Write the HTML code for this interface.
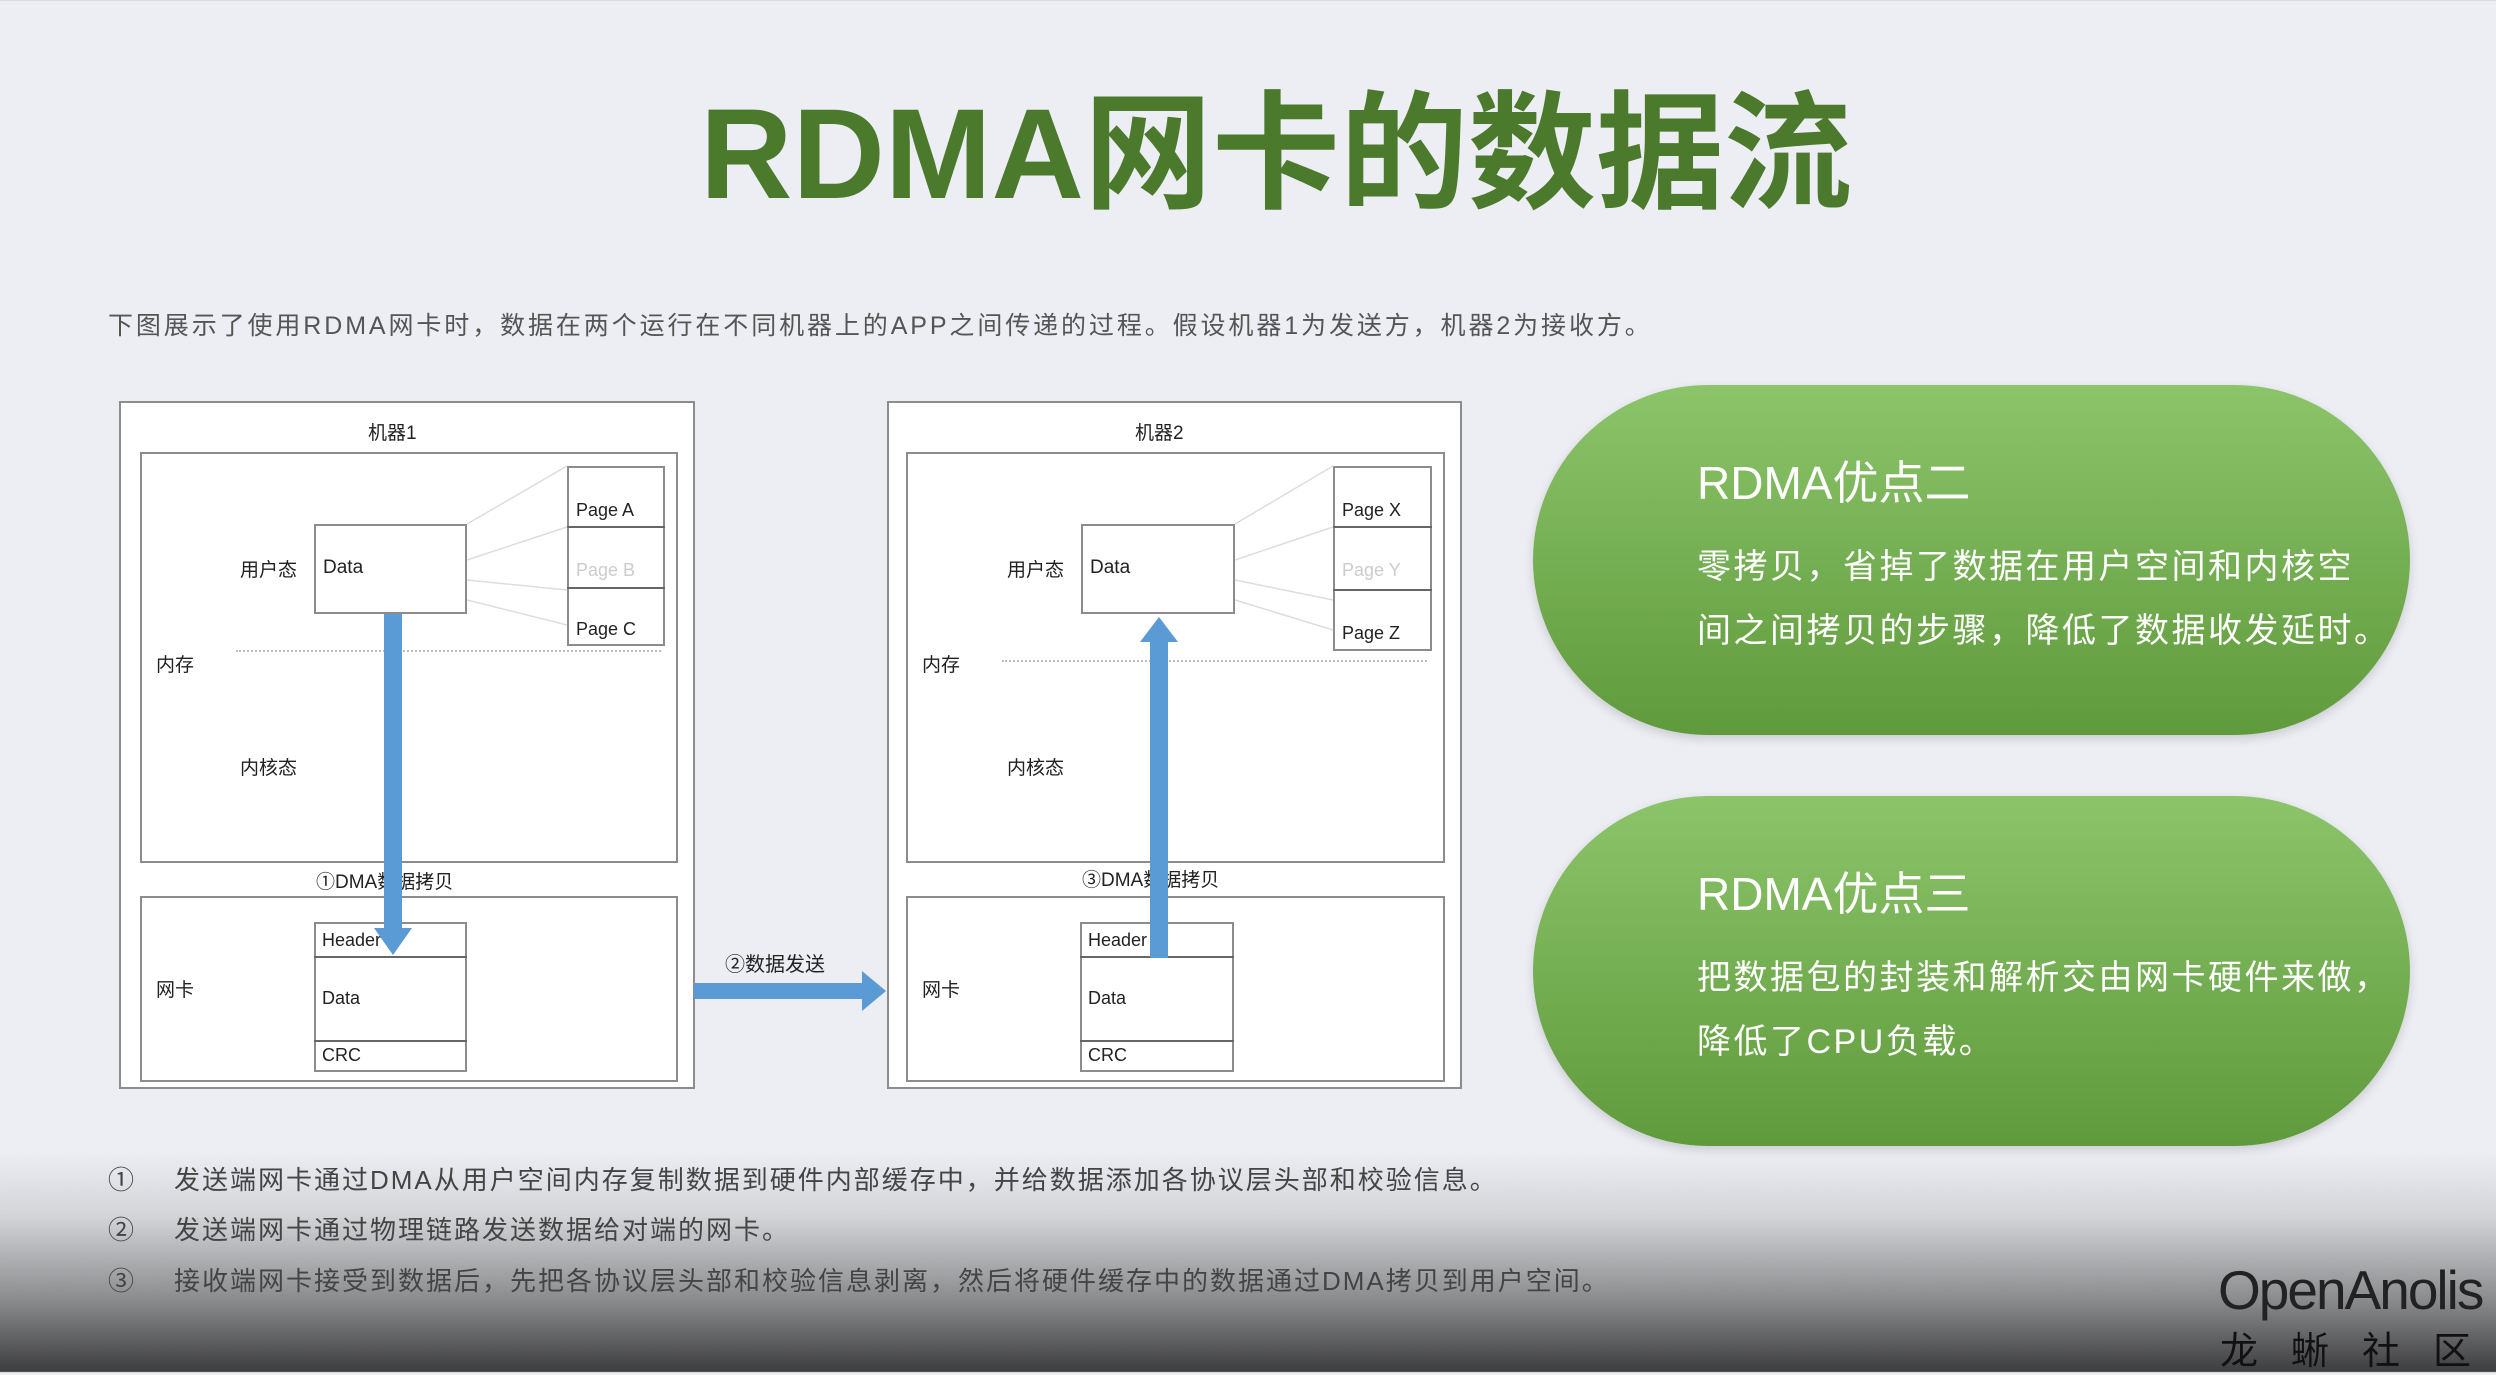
<!DOCTYPE html>
<html><head><meta charset="utf-8"><style>
*{margin:0;padding:0;box-sizing:border-box}
body{width:2496px;height:1372px;overflow:hidden;position:relative;font-family:"Liberation Sans","Noto Sans CJK SC",sans-serif;background:linear-gradient(#eceef4 0,#eceef4 1150px,#d4d5d8 1215px,#8a8b8d 1300px,#3d3d3f 1372px)}
.a{position:absolute;white-space:nowrap}
.box{position:absolute;border:2px solid #8c8c8c;background:#fff}
.t{position:absolute;font-size:19px;color:#222;white-space:nowrap}
.pill{position:absolute;left:1533px;width:877px;height:350px;border-radius:175px;background:linear-gradient(#8cc46a,#5f9a3c);box-shadow:0 4px 10px rgba(0,0,0,.15)}
.pill .h{position:absolute;left:164px;top:62px;font-size:46px;color:#fff}
.pill .b{position:absolute;left:164px;top:150px;font-size:34px;color:#fff;line-height:64px;white-space:nowrap;letter-spacing:2.5px}
.n{position:absolute;left:110px;font-size:26px;color:#444;white-space:nowrap;letter-spacing:2px}
.n span{display:inline-block;width:66px}
</style></head><body>
<div class="a" style="left:700px;top:50px;font-size:128px;font-weight:bold;color:#4b7a2c;letter-spacing:0px">RDMA网卡的数据流</div>
<div class="a" style="left:108px;top:306px;font-size:25px;color:#555;letter-spacing:2.9px">下图展示了使用RDMA网卡时，数据在两个运行在不同机器上的APP之间传递的过程。假设机器1为发送方，机器2为接收方。</div>

<!-- machine 1 -->
<div class="box" style="left:119px;top:401px;width:576px;height:688px"></div>
<div class="t" style="left:368px;top:418px">机器1</div>
<div class="box" style="left:140px;top:452px;width:538px;height:411px"></div>
<div class="box" style="left:140px;top:896px;width:538px;height:186px"></div>
<div class="box" style="left:314px;top:524px;width:153px;height:90px"></div>
<div class="t" style="left:323px;top:557px">Data</div>
<div class="t" style="left:240px;top:555px">用户态</div>
<div class="t" style="left:156px;top:650px">内存</div>
<div class="t" style="left:240px;top:753px">内核态</div>
<div class="t" style="left:156px;top:975px">网卡</div>
<div class="box" style="left:567px;top:466px;width:98px;height:180px"></div>
<div class="a" style="left:567px;top:526px;width:98px;border-top:2px solid #666"></div>
<div class="a" style="left:567px;top:587px;width:98px;border-top:2px solid #666"></div>
<div class="t" style="left:576px;top:500px;font-size:18px">Page A</div>
<div class="t" style="left:576px;top:560px;font-size:18px;color:#ccc">Page B</div>
<div class="t" style="left:576px;top:619px;font-size:18px">Page C</div>
<div class="a" style="left:236px;top:650px;width:425px;border-top:2px dotted #bbb"></div>
<div class="box" style="left:314px;top:922px;width:153px;height:150px"></div>
<div class="a" style="left:314px;top:956px;width:153px;border-top:2px solid #666"></div>
<div class="a" style="left:314px;top:1040px;width:153px;border-top:2px solid #666"></div>
<div class="t" style="left:322px;top:930px;font-size:18px">Header</div>
<div class="t" style="left:322px;top:988px;font-size:18px">Data</div>
<div class="t" style="left:322px;top:1045px;font-size:18px">CRC</div>
<div class="t" style="left:316px;top:867px;font-size:19px">①DMA数据拷贝</div>

<!-- machine 2 -->
<div class="box" style="left:887px;top:401px;width:575px;height:688px"></div>
<div class="t" style="left:1135px;top:418px">机器2</div>
<div class="box" style="left:906px;top:452px;width:539px;height:411px"></div>
<div class="box" style="left:906px;top:896px;width:539px;height:186px"></div>
<div class="box" style="left:1081px;top:524px;width:154px;height:90px"></div>
<div class="t" style="left:1090px;top:557px">Data</div>
<div class="t" style="left:1007px;top:555px">用户态</div>
<div class="t" style="left:922px;top:650px">内存</div>
<div class="t" style="left:1007px;top:753px">内核态</div>
<div class="t" style="left:922px;top:975px">网卡</div>
<div class="box" style="left:1333px;top:466px;width:99px;height:185px"></div>
<div class="a" style="left:1333px;top:526px;width:99px;border-top:2px solid #666"></div>
<div class="a" style="left:1333px;top:589px;width:99px;border-top:2px solid #666"></div>
<div class="t" style="left:1342px;top:500px;font-size:18px">Page X</div>
<div class="t" style="left:1342px;top:560px;font-size:18px;color:#ccc">Page Y</div>
<div class="t" style="left:1342px;top:623px;font-size:18px">Page Z</div>
<div class="a" style="left:1002px;top:660px;width:425px;border-top:2px dotted #bbb"></div>
<div class="box" style="left:1080px;top:922px;width:154px;height:150px"></div>
<div class="a" style="left:1080px;top:956px;width:154px;border-top:2px solid #666"></div>
<div class="a" style="left:1080px;top:1040px;width:154px;border-top:2px solid #666"></div>
<div class="t" style="left:1088px;top:930px;font-size:18px">Header</div>
<div class="t" style="left:1088px;top:988px;font-size:18px">Data</div>
<div class="t" style="left:1088px;top:1045px;font-size:18px">CRC</div>
<div class="t" style="left:1082px;top:865px;font-size:19px">③DMA数据拷贝</div>
<div class="t" style="left:725px;top:948px;font-size:20px">②数据发送</div>

<svg class="a" style="left:0;top:0" width="2496" height="1372">
<g stroke="#ddd" stroke-width="1.5">
<line x1="467" y1="524" x2="567" y2="466"/><line x1="467" y1="560" x2="567" y2="527"/><line x1="467" y1="580" x2="567" y2="590"/><line x1="467" y1="600" x2="567" y2="625"/>
<line x1="1235" y1="524" x2="1333" y2="466"/><line x1="1235" y1="560" x2="1333" y2="527"/><line x1="1235" y1="580" x2="1333" y2="600"/><line x1="1235" y1="600" x2="1333" y2="630"/>
</g>
<g fill="#5b9bd5">
<rect x="384" y="614" width="18" height="315"/><polygon points="374,928 412,928 393,955"/>
<rect x="1150" y="640" width="18" height="318"/><polygon points="1140,642 1178,642 1159,617"/>
<rect x="694" y="983" width="170" height="16"/><polygon points="862,971 886,991 862,1011"/>
</g>
</svg>

<div class="pill" style="top:385px"><div class="h">RDMA优点二</div><div class="b">零拷贝，省掉了数据在用户空间和内核空<br>间之间拷贝的步骤，降低了数据收发延时。</div></div>
<div class="pill" style="top:796px"><div class="h">RDMA优点三</div><div class="b">把数据包的封装和解析交由网卡硬件来做，<br>降低了CPU负载。</div></div>

<div class="n" style="top:1160px;left:108px"><span>①</span>发送端网卡通过DMA从用户空间内存复制数据到硬件内部缓存中，并给数据添加各协议层头部和校验信息。</div>
<div class="n" style="top:1210px;left:108px"><span>②</span>发送端网卡通过物理链路发送数据给对端的网卡。</div>
<div class="n" style="top:1261px;left:108px"><span>③</span>接收端网卡接受到数据后，先把各协议层头部和校验信息剥离，然后将硬件缓存中的数据通过DMA拷贝到用户空间。</div>

<div class="a" style="left:2218px;top:1258px;font-size:55px;color:#222;letter-spacing:-2px">OpenAnolis</div>
<div class="a" style="left:2220px;top:1320px;font-size:38px;color:#111;letter-spacing:33px">龙蜥社区</div>
</body></html>
